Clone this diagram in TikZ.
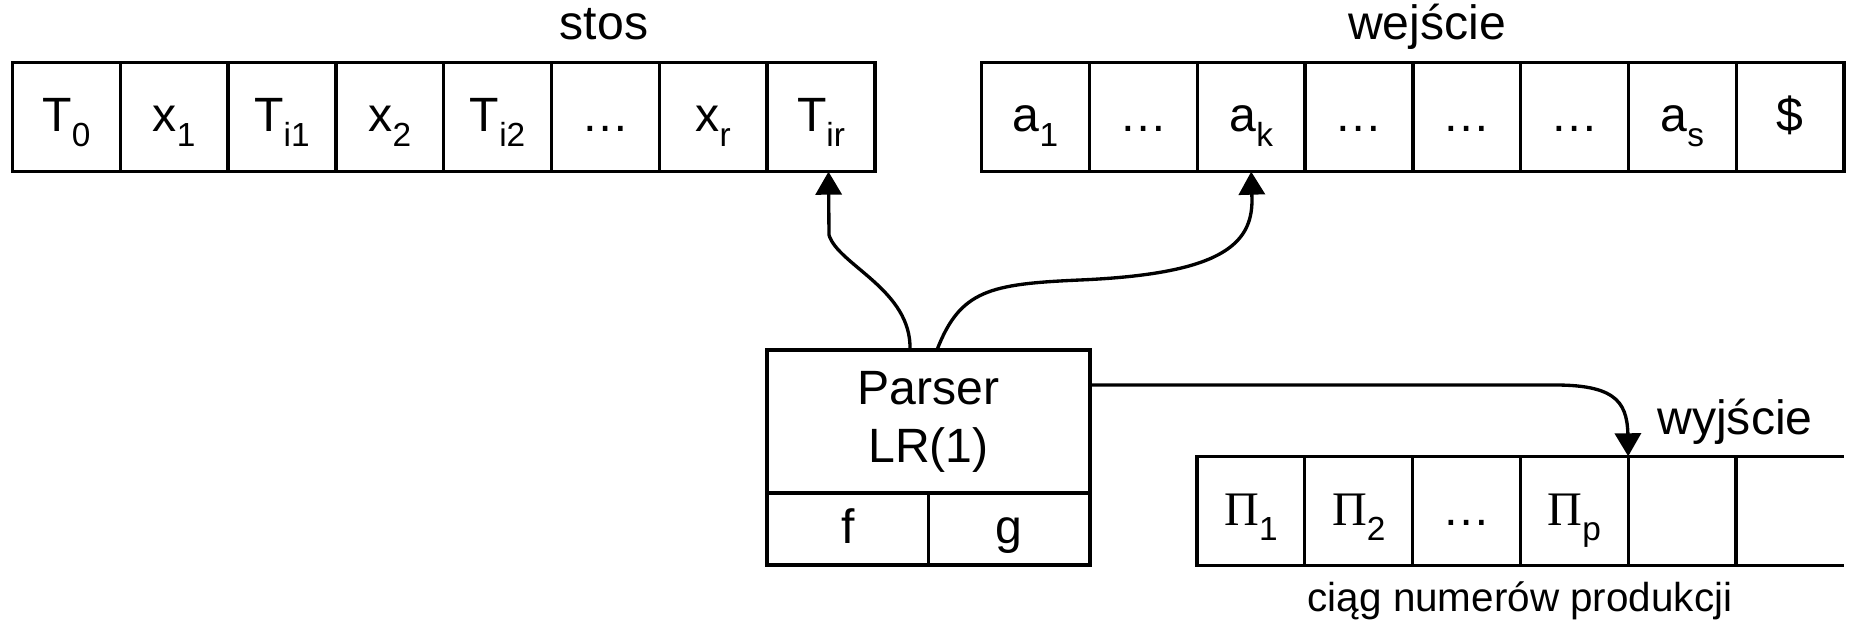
\documentclass[tikz,border=0pt]{standalone}
\usepackage{fontspec}
\setmainfont{Liberation Sans}
\newfontfamily\pifont{Liberation Serif}
\usetikzlibrary{arrows.meta, positioning}

\newcommand{\idx}[1]{\raisebox{-0.15cm}[0pt][0pt]{\fontsize{9.5pt}{10pt}\selectfont #1}}
\newcommand{\prodno}[1]{{\pifont Π}\idx{#1}}

\begin{document}
\begin{tikzpicture}[
    font=\fontsize{13.7pt}{16.5pt}\selectfont,
    cell/.style={draw, line width=0.95pt, minimum width=1.078cm, minimum height=1.094cm, inner sep=0pt, outer sep=0pt, text height=0.29cm, text depth=0pt},
    parserbox/.style={draw, line width=0.95pt, minimum width=3.23cm, minimum height=1.43cm, inner sep=0pt, outer sep=0pt, align=center},
    tab/.style={cell, minimum width=1.615cm, minimum height=0.72cm},
    frame/.style={line width=0.95pt},
    arrow/.style={-{Triangle[length=0.23cm, width=0.26cm]}, line width=0.95pt},
    title/.style={anchor=base, inner sep=0pt},
]
\useasboundingbox (0,0) rectangle (18.52,-6.24);

% Stack
\foreach \lbl [count=\i] in {T\idx{0}, x\idx{1}, T\idx{i1}, x\idx{2}, T\idx{i2}, \ldots, x\idx{r}, T\idx{ir}}
  \node[cell] (st\i) at ({0.125+1.078*(\i-0.5)}, -1.17) {\lbl};
\node[title] (sttitle) at (6.04, -0.40) {stos};

% Input tape
\foreach \lbl [count=\i] in {a\idx{1}, \ldots, a\idx{k}, \ldots, \ldots, \ldots, a\idx{s}, \$}
  \node[cell] (in\i) at ({9.817+1.078*(\i-0.5)}, -1.17) {\lbl};
\node[title] (intitle) at (14.27, -0.40) {wejście};

% Parser with its tables
\node[parserbox] (parser) at (9.285, -4.215) {Parser\\LR(1)};
\node[tab, anchor=north west] (ftab) at (parser.south west) {f};
\node[tab, right=0pt of ftab] (gtab) {g};

% Output tape, open on the right
\foreach \lbl [count=\i] in {\prodno{1}, \prodno{2}, \ldots, \prodno{p}, {}}
  \node[cell] (out\i) at ({11.97+1.078*(\i-0.5)}, -5.11) {\lbl};
\draw[frame] (out5.north east) -- ++(1.078, 0);
\draw[frame] (out5.south east) -- ++(1.078, 0);
\node[title] (outtitle) at (17.35, -4.35) {wyjście};
\node[title, font=\fontsize{11.5pt}{13pt}\selectfont] (outnote) at (15.20, -6.12) {ciąg numerów produkcji};

% Connections
\draw[arrow] ([xshift=-0.185cm]parser.north) .. controls (9.12, -2.90) and (8.38, -2.65) .. (8.29, -2.35) -- ([xshift=0.075cm]st8.south);
\draw[arrow] ([xshift=0.085cm]parser.north) .. controls (9.60, -2.90) and (9.90, -2.84) .. (10.80, -2.80)
  .. controls (12.20, -2.74) and (12.52, -2.45) .. (12.52, -2.00) -- (in3.south);
\draw[arrow] ([yshift=0.365cm]parser.east) -- (15.55, -3.85) .. controls (16.20, -3.85) and (16.28, -4.05) .. (16.28, -4.40) -- (out4.north east);

\end{tikzpicture}
\end{document}
